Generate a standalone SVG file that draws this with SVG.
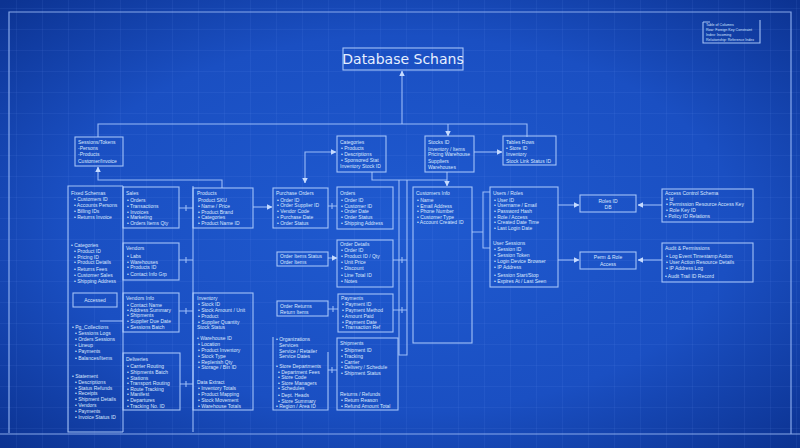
<svg xmlns="http://www.w3.org/2000/svg" width="800" height="448" viewBox="0 0 800 448">
<defs>
<radialGradient id="bg" cx="50%" cy="50%" r="70%">
<stop offset="0" stop-color="#1f5ad0"/>
<stop offset="0.6" stop-color="#1a4fc2"/>
<stop offset="1" stop-color="#0c3392"/>
</radialGradient>
<pattern id="grid" width="26" height="21" patternUnits="userSpaceOnUse" x="16" y="8">
<path d="M0,0 V21 M0,0 H26" fill="none" stroke="#7aa4ff" stroke-width="0.7" stroke-opacity="0.22"/>
</pattern>
<marker id="ar" viewBox="0 0 6 6" refX="5.5" refY="3" markerWidth="5" markerHeight="5" orient="auto-start-reverse">
<path d="M0,0 L6,3 L0,6 z" fill="#c6dbff"/>
</marker>
<style>
.box{fill:none;stroke:#b3cffd;stroke-width:1.1;stroke-opacity:0.9}
.ln{fill:none;stroke:#a9c7fc;stroke-width:1.1;stroke-opacity:0.9}
.fr{fill:none;stroke:#9cbcf7;stroke-width:1.2;stroke-opacity:0.85}
.t{font-family:"Liberation Sans","DejaVu Sans",sans-serif;font-size:5px;fill:#dbe8ff}
.tc{font-family:"Liberation Sans","DejaVu Sans",sans-serif;font-size:5px;fill:#dbe8ff;text-anchor:middle}
.lg{font-family:"Liberation Sans","DejaVu Sans",sans-serif;font-size:3.6px;fill:#d2e2ff}
.ttl{font-family:"DejaVu Sans","Liberation Sans",sans-serif;font-size:14px;fill:#e6efff;text-anchor:middle}
</style>
</defs>
<rect width="800" height="448" fill="url(#bg)"/>
<rect width="800" height="448" fill="url(#grid)"/>
<path class="fr" d="M9,433 V12 H791 V434 M0,434 H800"/>

<g id="title">
<rect class="box" x="343" y="48" width="120" height="22"/>
<text class="ttl" x="403" y="64">Database Schans</text>
</g>

<g id="legend">
<path class="box" d="M703,22 V43 H760 V20 M703,22 H710"/>
<text class="lg"><tspan x="706" y="25.5">Table of Columns</tspan><tspan x="706" y="31">Row: Foreign Key Constraint</tspan><tspan x="706" y="36">Index: Incoming</tspan><tspan x="706" y="41">Relationship: Reference Index</tspan></text>
</g>

<g id="connectors">
<path class="ln" d="M98,137 V124 H527 V137"/>
<path class="ln" d="M402,124 V71" marker-end="url(#ar)"/>
<path class="ln" d="M448,124 V136" marker-end="url(#ar)"/>
<path class="ln" d="M474,152 H502" marker-end="url(#ar)"/>
<path class="ln" d="M336,152 H305 V183" marker-start="url(#ar)" marker-end="url(#ar)"/>
<path class="ln" d="M222,188 V180 H98 V167" marker-end="url(#ar)"/>
<path class="ln" d="M372,172 V180 H447"/>
<path class="ln" d="M447,172 V186" marker-end="url(#ar)"/>
<path class="ln" d="M399,180 V355 H407 V180"/>
<path class="ln" d="M123,186 V432 M193,186 V432"/>
<path class="ln" d="M100,321 H123"/>
<path class="ln" d="M179,208 H193 M186,205 V211"/>
<path class="ln" d="M179,260 H193 M186,257 V263"/>
<path class="ln" d="M179,311 H193 M186,308 V314"/>
<path class="ln" d="M180,384 H193 M186,381 V387"/>
<path class="ln" d="M253,207 H272" marker-end="url(#ar)"/>
<path class="ln" d="M328,206 H337 M332,203 V209"/>
<path class="ln" d="M328,258 H337" marker-end="url(#ar)"/>
<path class="ln" d="M328,309 H338 M333,306 V312"/>
<path class="ln" d="M328,370 H337 M332,367 V373"/>
<path class="ln" d="M393,260 H407 M402,257 V263"/>
<path class="ln" d="M393,310 H407 M402,307 V313"/>
<path class="ln" d="M472,232 H483 M490,192 H483 V248 H490"/>
<path class="ln" d="M558,205 H579" marker-end="url(#ar)"/>
<path class="ln" d="M558,260 H579" marker-end="url(#ar)"/>
<path class="ln" d="M662,205 H638" marker-end="url(#ar)"/>
<path class="ln" d="M662,260 H638" marker-end="url(#ar)"/>
</g>

<g id="n1">
<rect class="box" x="75" y="137" width="48" height="29"/>
<text class="t"><tspan x="78" y="144">Sessions/Tokens</tspan><tspan x="78" y="150">-Persons</tspan><tspan x="78" y="156">-Products</tspan><tspan x="78" y="163">Customer/Invoice</tspan></text>
</g>
<g id="n2">
<rect class="box" x="337" y="136" width="49" height="36"/>
<text class="t"><tspan x="340" y="144">Categories</tspan><tspan x="341" y="150">• Products</tspan><tspan x="341" y="156">• Descriptions</tspan><tspan x="341" y="162">• Sponsored Stat</tspan><tspan x="340" y="168">Inventory Stock ID</tspan></text>
</g>
<g id="n3">
<rect class="box" x="425" y="136" width="49" height="36"/>
<text class="t"><tspan x="428" y="144">Stocks ID</tspan><tspan x="428" y="151">Inventory / Items</tspan><tspan x="428" y="156">Pricing Warehouse</tspan><tspan x="428" y="163">Suppliers</tspan><tspan x="428" y="169">Warehouses</tspan></text>
</g>
<g id="n4">
<rect class="box" x="503" y="136" width="53" height="29"/>
<text class="t"><tspan x="506" y="144">Tables Rows</tspan><tspan x="506" y="150">• Store ID</tspan><tspan x="506" y="156">Inventory</tspan><tspan x="506" y="163">Stock Link Status ID</tspan></text>
</g>

<g id="left-panel">
<path class="box" d="M123,186 H68 V432 H123"/>
<text class="t"><tspan x="71" y="195">Fixed Schemas</tspan><tspan x="74" y="201">• Customers ID</tspan><tspan x="74" y="207">• Accounts Persons</tspan><tspan x="74" y="213">• Billing IDs</tspan><tspan x="74" y="219">• Returns Invoice</tspan></text>
<text class="t"><tspan x="71" y="247">• Categories</tspan><tspan x="74" y="253">• Product ID</tspan><tspan x="74" y="259">• Pricing ID</tspan><tspan x="74" y="264">• Product Details</tspan><tspan x="74" y="271">• Returns Fees</tspan><tspan x="74" y="277">• Customer Sales</tspan><tspan x="74" y="283">• Shipping Address</tspan></text>
<rect class="box" x="73" y="293" width="44" height="14"/>
<text class="tc" x="95" y="302">Accessed</text>
<text class="t"><tspan x="72" y="329">• Pg_Collections</tspan><tspan x="75" y="335">• Sessions Logs</tspan><tspan x="75" y="341">• Orders Sessions</tspan><tspan x="75" y="347">• Lineup</tspan><tspan x="75" y="353">• Payments</tspan><tspan x="75" y="360">• Balances/Items</tspan></text>
<text class="t"><tspan x="72" y="378">• Statement</tspan><tspan x="75" y="384">• Descriptions</tspan><tspan x="75" y="390">• Status Refunds</tspan><tspan x="75" y="395">• Receipts</tspan><tspan x="75" y="401">• Shipment Details</tspan><tspan x="75" y="407">• Vendors</tspan><tspan x="75" y="413">• Payments</tspan><tspan x="75" y="419">• Invoice Status ID</tspan></text>
</g>

<g id="n6">
<rect class="box" x="123" y="187" width="56" height="41"/>
<text class="t"><tspan x="126" y="195">Sales</tspan><tspan x="127" y="202">• Orders</tspan><tspan x="127" y="208">• Transactions</tspan><tspan x="127" y="214">• Invoices</tspan><tspan x="127" y="219">• Marketing</tspan><tspan x="127" y="225">• Orders Items Qty</tspan></text>
</g>
<g id="n7">
<rect class="box" x="123" y="243" width="56" height="37"/>
<text class="t"><tspan x="126" y="250">Vendors</tspan><tspan x="127" y="258">• Labs</tspan><tspan x="127" y="264">• Warehouses</tspan><tspan x="127" y="269">• Products ID</tspan><tspan x="127" y="276">• Contact Info Grp</tspan></text>
</g>
<g id="n8">
<rect class="box" x="123" y="293" width="56" height="39"/>
<text class="t"><tspan x="126" y="300">Vendors Info</tspan><tspan x="127" y="307">• Contact Name</tspan><tspan x="127" y="312">• Address Summary</tspan><tspan x="127" y="317">• Shipments</tspan><tspan x="127" y="323">• Supplier Due Date</tspan><tspan x="127" y="329">• Sessions Batch</tspan></text>
</g>
<g id="n9">
<rect class="box" x="123" y="353" width="57" height="57"/>
<text class="t"><tspan x="126" y="361">Deliveries</tspan><tspan x="127" y="368">• Carrier Routing</tspan><tspan x="127" y="374">• Shipments Batch</tspan><tspan x="127" y="380">• Stations</tspan><tspan x="127" y="385">• Transport Routing</tspan><tspan x="127" y="391">• Route Tracking</tspan><tspan x="127" y="396">• Manifest</tspan><tspan x="127" y="402">• Departures</tspan><tspan x="127" y="408">• Tracking No. ID</tspan></text>
</g>
<g id="n10">
<rect class="box" x="193" y="188" width="60" height="40"/>
<text class="t"><tspan x="197" y="195">Products</tspan><tspan x="198" y="202">Product SKU</tspan><tspan x="198" y="208">• Name / Price</tspan><tspan x="198" y="214">• Product Brand</tspan><tspan x="198" y="219">• Categories</tspan><tspan x="198" y="225">• Product Name ID</tspan></text>
</g>
<g id="n11">
<rect class="box" x="193" y="293" width="60" height="117"/>
<text class="t"><tspan x="197" y="300">Inventory</tspan><tspan x="198" y="306">• Stock ID</tspan><tspan x="198" y="312">• Stock Amount / Unit</tspan><tspan x="198" y="318">• Product</tspan><tspan x="198" y="324">• Supplier Quantity</tspan><tspan x="197" y="329">Stock Status</tspan></text>
<text class="t"><tspan x="197" y="340">• Warehouse ID</tspan><tspan x="198" y="346">• Location</tspan><tspan x="198" y="352">• Product Inventory</tspan><tspan x="198" y="358">• Stock Type</tspan><tspan x="198" y="364">• Replenish Qty</tspan><tspan x="198" y="369">• Storage / Bin ID</tspan></text>
<text class="t"><tspan x="197" y="384">Data Extract</tspan><tspan x="198" y="390">• Inventory Totals</tspan><tspan x="198" y="396">• Product Mapping</tspan><tspan x="198" y="402">• Stock Movement</tspan><tspan x="198" y="408">• Warehouse Totals</tspan></text>
</g>
<g id="n12">
<rect class="box" x="273" y="188" width="55" height="40"/>
<text class="t"><tspan x="276" y="195">Purchase Orders</tspan><tspan x="277" y="202">• Order ID</tspan><tspan x="277" y="207">• Order Supplier ID</tspan><tspan x="277" y="213">• Vendor Code</tspan><tspan x="277" y="219">• Purchase Date</tspan><tspan x="277" y="225">• Order Status</tspan></text>
</g>
<g id="n13">
<rect class="box" x="277" y="252" width="51" height="14"/>
<text class="t"><tspan x="280" y="258">Order Items Status</tspan><tspan x="280" y="264">Order Items</tspan></text>
</g>
<g id="n15">
<rect class="box" x="277" y="301" width="51" height="15"/>
<text class="t"><tspan x="280" y="308">Order Returns</tspan><tspan x="280" y="314">Return Items</tspan></text>
</g>
<g id="n-group">
<path class="box" d="M273,337 V410 H328 V352"/>
<text class="t"><tspan x="276" y="341">• Organizations</tspan><tspan x="279" y="347">Services</tspan><tspan x="279" y="353">Service / Retailer</tspan><tspan x="279" y="358">Service Dates</tspan></text>
<text class="t"><tspan x="276" y="368">• Store Departments</tspan><tspan x="278" y="374">• Department Fees</tspan><tspan x="278" y="379">• Store Code</tspan><tspan x="278" y="385">• Store Managers</tspan><tspan x="278" y="390">• Schedules</tspan><tspan x="278" y="397">• Dept. Heads</tspan><tspan x="278" y="403">• Store Summary</tspan><tspan x="276" y="408">• Region / Area ID</tspan></text>
</g>
<g id="n16">
<rect class="box" x="337" y="187" width="56" height="42"/>
<text class="t"><tspan x="340" y="195">Orders</tspan><tspan x="341" y="202">• Order ID</tspan><tspan x="341" y="208">• Customer ID</tspan><tspan x="341" y="213">• Order Date</tspan><tspan x="341" y="219">• Order Status</tspan><tspan x="341" y="225">• Shipping Address</tspan></text>
</g>
<g id="n17">
<rect class="box" x="337" y="240" width="56" height="47"/>
<text class="t"><tspan x="340" y="246">Order Details</tspan><tspan x="341" y="252">• Order ID</tspan><tspan x="341" y="258">• Product ID / Qty</tspan><tspan x="341" y="264">• Unit Price</tspan><tspan x="341" y="270">• Discount</tspan><tspan x="341" y="277">• Line Total ID</tspan><tspan x="341" y="283">• Notes</tspan></text>
</g>
<g id="n18">
<rect class="box" x="338" y="294" width="55" height="38"/>
<text class="t"><tspan x="341" y="300">Payments</tspan><tspan x="342" y="306">• Payment ID</tspan><tspan x="342" y="312">• Payment Method</tspan><tspan x="342" y="318">• Amount Paid</tspan><tspan x="342" y="324">• Payment Date</tspan><tspan x="342" y="329">• Transaction Ref</tspan></text>
</g>
<g id="n19">
<rect class="box" x="337" y="338" width="61" height="72"/>
<text class="t"><tspan x="340" y="345">Shipments</tspan><tspan x="341" y="352">• Shipment ID</tspan><tspan x="341" y="358">• Tracking</tspan><tspan x="341" y="364">• Carrier</tspan><tspan x="341" y="369">• Delivery / Schedule</tspan><tspan x="341" y="375">• Shipment Status</tspan></text>
<text class="t"><tspan x="340" y="396">Returns / Refunds</tspan><tspan x="341" y="402">• Return Reason</tspan><tspan x="341" y="408">• Refund Amount Total</tspan></text>
</g>
<g id="n20">
<rect class="box" x="413" y="187" width="59" height="156"/>
<text class="t"><tspan x="416" y="195">Customers Info</tspan><tspan x="417" y="202">• Name</tspan><tspan x="417" y="208">• Email Address</tspan><tspan x="417" y="213">• Phone Number</tspan><tspan x="417" y="219">• Customer Type</tspan><tspan x="417" y="224">• Account Created ID</tspan></text>
</g>
<g id="n21">
<rect class="box" x="490" y="187" width="68" height="100"/>
<text class="t"><tspan x="493" y="195">Users / Roles</tspan><tspan x="494" y="202">• User ID</tspan><tspan x="494" y="207">• Username / Email</tspan><tspan x="494" y="213">• Password Hash</tspan><tspan x="494" y="219">• Role / Access</tspan><tspan x="494" y="224">• Created Date Time</tspan><tspan x="494" y="230">• Last Login Date</tspan></text>
<text class="t"><tspan x="493" y="245">User Sessions</tspan><tspan x="494" y="251">• Session ID</tspan><tspan x="494" y="257">• Session Token</tspan><tspan x="494" y="263">• Login Device Browser</tspan><tspan x="494" y="269">• IP Address</tspan><tspan x="494" y="277">• Session Start/Stop</tspan><tspan x="494" y="283">• Expires At / Last Seen</tspan></text>
</g>
<g id="n22">
<rect class="box" x="580" y="195" width="56" height="17"/>
<text class="tc"><tspan x="608" y="203">Roles ID</tspan><tspan x="608" y="209">DB</tspan></text>
</g>
<g id="n23">
<rect class="box" x="580" y="252" width="56" height="17"/>
<text class="tc"><tspan x="608" y="259">Perm &amp; Role</tspan><tspan x="608" y="266">Access</tspan></text>
</g>
<g id="n24">
<rect class="box" x="662" y="189" width="91" height="33"/>
<text class="t"><tspan x="665" y="195">Access Control Schema</tspan><tspan x="666" y="201">• Id</tspan><tspan x="666" y="206">• Permission Resource Access Key</tspan><tspan x="666" y="212">• Role Key ID</tspan><tspan x="665" y="218">• Policy ID Relations</tspan></text>
</g>
<g id="n25">
<rect class="box" x="662" y="243" width="91" height="39"/>
<text class="t"><tspan x="665" y="250">Audit &amp; Permissions</tspan><tspan x="666" y="258">• Log Event Timestamp Action</tspan><tspan x="666" y="264">• User Action Resource Details</tspan><tspan x="666" y="270">• IP Address Log</tspan><tspan x="665" y="278">• Audit Trail ID Record</tspan></text>
</g>
</svg>
